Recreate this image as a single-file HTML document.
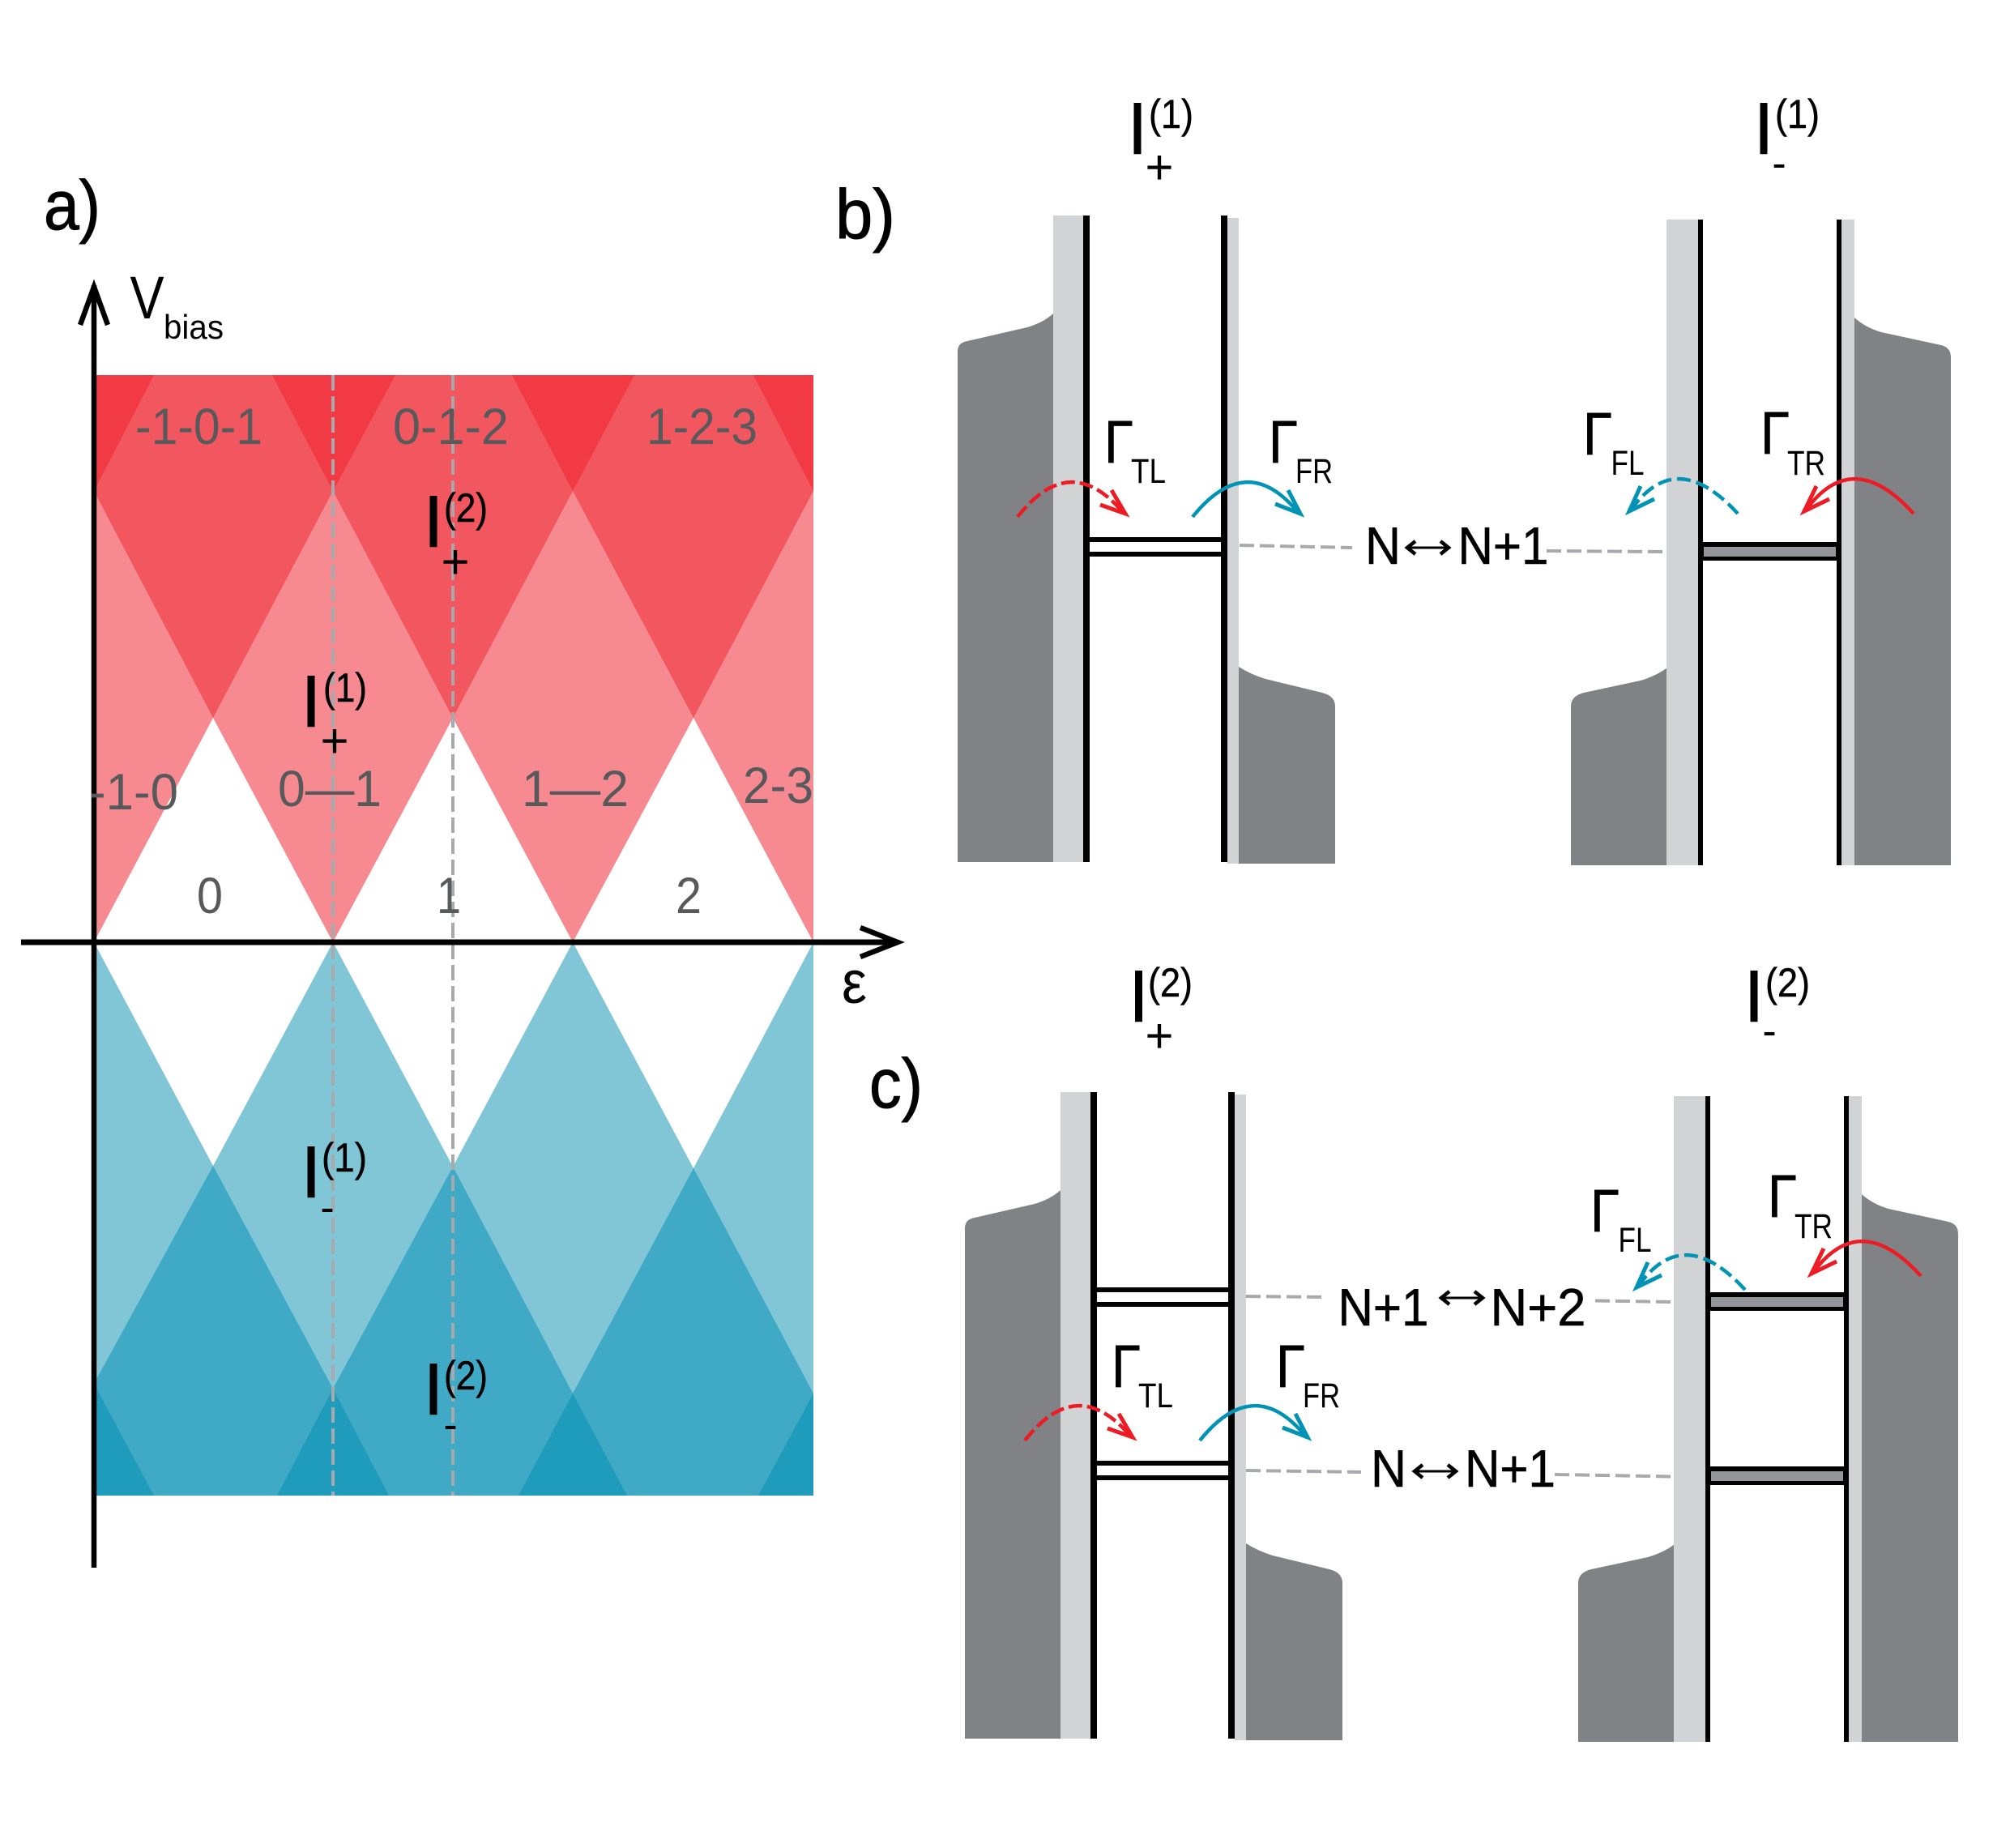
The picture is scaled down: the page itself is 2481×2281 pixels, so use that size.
<!DOCTYPE html>
<html><head><meta charset="utf-8"><style>
html,body{margin:0;padding:0;background:#fff}
svg{display:block}
text{font-family:"Liberation Sans","DejaVu Sans",sans-serif;fill:#000}
.g{fill:#58595b;font-size:63px}
.i{font-size:91px;text-anchor:middle;stroke:#000;stroke-width:.5}
.p{font-size:50px;stroke:#000;stroke-width:.5}
.s{font-size:60px;text-anchor:middle}
.m{font-size:52px;text-anchor:middle}
.G{font-size:74px;stroke:#000;stroke-width:.7}
.t{font-size:43px}
.n{font-size:65px;stroke:#000;stroke-width:.6}
.l{font-size:86px;stroke:#000;stroke-width:1}
</style></head><body>
<svg width="2481" height="2281" viewBox="0 0 2481 2281" xmlns="http://www.w3.org/2000/svg">
<rect width="2481" height="2281" fill="#fff"/>
<defs>
<g id="bl">
<path d="M1182 1064V434Q1182 423 1194 421L1268 404Q1288 398 1300 387V1064Z" fill="#808285"/>
<rect x="1300" y="266" width="37" height="798" fill="#d1d3d4"/>
<rect x="1337" y="266" width="8" height="798" fill="#000"/>
<path d="M1529 823Q1543 832 1562 838L1632 855Q1648 859 1648 872V1066H1529Z" fill="#808285"/>
<rect x="1515" y="269" width="14" height="797" fill="#d1d3d4"/>
<rect x="1507" y="266" width="8" height="798" fill="#000"/>
</g>
<g id="br">
<path d="M1939 1068V872Q1939 859 1955 855L2025 840Q2045 834 2058 824V1068Z" fill="#808285"/>
<rect x="2057" y="271" width="39" height="797" fill="#d1d3d4"/>
<rect x="2096" y="271" width="6" height="797" fill="#000"/>
<path d="M2289 392Q2302 404 2322 410L2396 426Q2408 429 2408 441V1068H2289Z" fill="#808285"/>
<rect x="2273" y="271" width="16" height="797" fill="#d1d3d4"/>
<rect x="2267" y="271" width="6" height="797" fill="#000"/>
</g>
<g id="lo"><rect x="1345" y="663" width="162" height="6" fill="#000"/><rect x="1345" y="681" width="162" height="6" fill="#000"/></g>
<g id="lf"><rect x="2102" y="669" width="165" height="23" fill="#000"/><rect x="2103" y="675" width="163" height="12" fill="#939598"/></g>
<g id="rd" fill="none" stroke="#ed1c24">
<path d="M1256 638Q1320 556 1385 631" stroke-width="4.5" stroke-dasharray="17 6"/>
<path d="M1372 605L1389 634L1358 623" stroke-width="5"/>
</g>
<g id="bs" fill="none" stroke="#0093b5">
<path d="M1472 638Q1538 556 1601 631" stroke-width="4.5"/>
<path d="M1590 605L1605 634L1574 622" stroke-width="5"/>
</g>
<g id="bd" fill="none" stroke="#0093b5">
<path d="M2145 634Q2070 552 2015 627" stroke-width="4.5" stroke-dasharray="17 7"/>
<path d="M2025 600L2011 631L2042 616" stroke-width="5"/>
</g>
<g id="rs" fill="none" stroke="#ed1c24">
<path d="M2362 634Q2288 552 2231 627" stroke-width="4.5"/>
<path d="M2242 600L2227 631L2258 616" stroke-width="5"/>
</g>
<g id="da" fill="none" stroke="#000">
<path d="M1738 676H1787" stroke-width="3"/>
<path d="M1747 668L1737 676L1747 684M1778 668L1788 676L1778 684" stroke-width="4.5"/>
</g>
</defs>

<!-- a) red -->
<rect x="116" y="463" width="888" height="700" fill="#f68a90"/>
<path d="M116 463H1004V606L856 886L707 606L559 886L411 606L263 886L116 606Z" fill="#f2565f"/>
<path d="M116 463H190L116 606ZM336 463H488L411 606ZM632 463H783L707 606ZM930 463H1004V606Z" fill="#f13a43"/>
<path d="M116 1163L263 886L411 1163ZM411 1163L559 886L707 1163ZM707 1163L856 886L1004 1163Z" fill="#fff"/>
<!-- a) blue -->
<rect x="116" y="1163" width="888" height="683" fill="#81c6d6"/>
<path d="M116 1846H1004V1720L856 1442L707 1720L559 1440L411 1714L263 1439L116 1708Z" fill="#3fa9c6"/>
<path d="M116 1708L190 1846H116ZM411 1714L342 1846H480ZM707 1720L640 1846H774ZM1004 1720L936 1846H1004Z" fill="#1f9bbb"/>
<path d="M116 1163H411L263 1439ZM411 1163H707L559 1440ZM707 1163H1004L856 1442Z" fill="#fff"/>
<path d="M411 463V1846M559 463V1846" stroke="#a7a9ac" stroke-width="4" stroke-dasharray="19 7" fill="none"/>

<!-- axes -->
<path d="M116 352V1935" stroke="#000" stroke-width="6.500" fill="none"/>
<path d="M26 1163H1105" stroke="#000" stroke-width="7" fill="none"/>
<path d="M99 401L116 354L133 401" stroke="#000" stroke-width="6.5" fill="none"/>
<path d="M1062 1145L1108 1163L1062 1181" stroke="#000" stroke-width="6.5" fill="none"/>

<!-- a) texts -->
<text class="l" x="54" y="283" textLength="70" lengthAdjust="spacingAndGlyphs">a)</text>
<text class="l" x="1031" y="294" textLength="74" lengthAdjust="spacingAndGlyphs">b)</text>
<text class="l" x="1073" y="1367" textLength="66" lengthAdjust="spacingAndGlyphs">c)</text>
<text x="160.500" y="393" font-size="74" textLength="42" lengthAdjust="spacingAndGlyphs">V</text>
<text x="202" y="418" font-size="42" textLength="74" lengthAdjust="spacingAndGlyphs">bias</text>
<text x="1039" y="1238" font-size="74" textLength="31" lengthAdjust="spacingAndGlyphs">ε</text>

<text class="g" x="167" y="548" textLength="157" lengthAdjust="spacingAndGlyphs">-1-0-1</text>
<text class="g" x="485" y="548" textLength="143" lengthAdjust="spacingAndGlyphs">0-1-2</text>
<text class="g" x="798" y="548" textLength="137" lengthAdjust="spacingAndGlyphs">1-2-3</text>
<text class="g" x="110" y="999" textLength="110" lengthAdjust="spacingAndGlyphs">-1-0</text>
<text class="g" x="343" y="995" textLength="128" lengthAdjust="spacingAndGlyphs">0—1</text>
<text class="g" x="644" y="995" textLength="132" lengthAdjust="spacingAndGlyphs">1—2</text>
<text class="g" x="917" y="991" textLength="87" lengthAdjust="spacingAndGlyphs">2-3</text>
<text class="g" x="243" y="1127" textLength="32" lengthAdjust="spacingAndGlyphs">0</text>
<text class="g" x="539" y="1127" textLength="30" lengthAdjust="spacingAndGlyphs">1</text>
<text class="g" x="834" y="1127" textLength="32" lengthAdjust="spacingAndGlyphs">2</text>

<text class="i" x="535" y="675">I</text>
<text class="p" x="548" y="644" textLength="54" lengthAdjust="spacingAndGlyphs">(2)</text>
<text class="s" x="562" y="714">+</text>

<text class="i" x="384" y="897">I</text>
<text class="p" x="399" y="866" textLength="54" lengthAdjust="spacingAndGlyphs">(1)</text>
<text class="s" x="413" y="935">+</text>

<text class="i" x="384" y="1478">I</text>
<text class="p" x="397" y="1446" textLength="56" lengthAdjust="spacingAndGlyphs">(1)</text>
<text class="m" x="404" y="1508">-</text>

<text class="i" x="535" y="1746">I</text>
<text class="p" x="548" y="1715" textLength="54" lengthAdjust="spacingAndGlyphs">(2)</text>
<text class="m" x="556" y="1776">-</text>

<!-- b) -->
<use href="#bl"/><use href="#br"/><use href="#lo"/><use href="#lf"/>
<use href="#rd"/><use href="#bs"/><use href="#bd"/><use href="#rs"/>
<path d="M1530 673L1669 676M1909 680L2053 681" stroke="#a7a9ac" stroke-width="4" stroke-dasharray="18 7" fill="none"/>
<text class="i" x="1404" y="190">I</text>
<text class="p" x="1418" y="158" textLength="55" lengthAdjust="spacingAndGlyphs">(1)</text>
<text class="s" x="1431" y="227">+</text>
<text class="i" x="2177" y="190">I</text>
<text class="p" x="2191" y="158" textLength="55" lengthAdjust="spacingAndGlyphs">(1)</text>
<text class="m" x="2196" y="219">-</text>

<text class="G" x="1363" y="571" textLength="36" lengthAdjust="spacingAndGlyphs">Γ</text><text class="t" x="1396" y="596" textLength="43" lengthAdjust="spacingAndGlyphs">TL</text>
<text class="G" x="1566" y="571" textLength="36" lengthAdjust="spacingAndGlyphs">Γ</text><text class="t" x="1599" y="596" textLength="46" lengthAdjust="spacingAndGlyphs">FR</text>
<text class="G" x="1954" y="561" textLength="36" lengthAdjust="spacingAndGlyphs">Γ</text><text class="t" x="1988.500" y="586" textLength="41" lengthAdjust="spacingAndGlyphs">FL</text>
<text class="G" x="2173" y="560" textLength="36" lengthAdjust="spacingAndGlyphs">Γ</text><text class="t" x="2206" y="586" textLength="47" lengthAdjust="spacingAndGlyphs">TR</text>

<text class="n" x="1685" y="696" textLength="44" lengthAdjust="spacingAndGlyphs">N</text>
<text class="n" x="1799.500" y="696" textLength="112" lengthAdjust="spacingAndGlyphs">N+1</text>
<use href="#da"/>

<!-- c) -->
<use href="#bl" transform="translate(9 1082)"/><use href="#br" transform="translate(9 1082)"/>
<use href="#lo" transform="translate(9 926)"/><use href="#lo" transform="translate(9 1140)"/>
<use href="#lf" transform="translate(9 926)"/><use href="#lf" transform="translate(9 1141)"/>
<use href="#rd" transform="translate(9 1140)"/><use href="#bs" transform="translate(9 1140)"/>
<use href="#bd" transform="translate(9 958)"/><use href="#rs" transform="translate(9 941)"/>
<path d="M1538 1600L1631 1601M1969 1605.5L2063 1607M1538 1815L1680 1817M1919 1820L2063 1822.5" stroke="#a7a9ac" stroke-width="4" stroke-dasharray="18 7" fill="none"/>
<text class="i" x="1405.500" y="1261">I</text>
<text class="p" x="1417" y="1230" textLength="55" lengthAdjust="spacingAndGlyphs">(2)</text>
<text class="s" x="1431" y="1299">+</text>
<text class="i" x="2165" y="1261">I</text>
<text class="p" x="2179" y="1230" textLength="55" lengthAdjust="spacingAndGlyphs">(2)</text>
<text class="m" x="2184" y="1290">-</text>

<text class="G" x="1372" y="1712" textLength="36" lengthAdjust="spacingAndGlyphs">Γ</text><text class="t" x="1405" y="1737" textLength="43" lengthAdjust="spacingAndGlyphs">TL</text>
<text class="G" x="1575" y="1712" textLength="36" lengthAdjust="spacingAndGlyphs">Γ</text><text class="t" x="1608" y="1737" textLength="46" lengthAdjust="spacingAndGlyphs">FR</text>
<text class="G" x="1963" y="1520" textLength="36" lengthAdjust="spacingAndGlyphs">Γ</text><text class="t" x="1997.500" y="1545" textLength="41" lengthAdjust="spacingAndGlyphs">FL</text>
<text class="G" x="2182" y="1502" textLength="36" lengthAdjust="spacingAndGlyphs">Γ</text><text class="t" x="2215" y="1528" textLength="47" lengthAdjust="spacingAndGlyphs">TR</text>

<text class="n" x="1651.500" y="1636" textLength="112" lengthAdjust="spacingAndGlyphs">N+1</text>
<text class="n" x="1839.500" y="1636" textLength="118" lengthAdjust="spacingAndGlyphs">N+2</text>
<use href="#da" transform="translate(42 926)"/>
<text class="n" x="1692" y="1835" textLength="44" lengthAdjust="spacingAndGlyphs">N</text>
<text class="n" x="1808" y="1835" textLength="112" lengthAdjust="spacingAndGlyphs">N+1</text>
<use href="#da" transform="translate(9 1140)"/>
</svg>
</body></html>
